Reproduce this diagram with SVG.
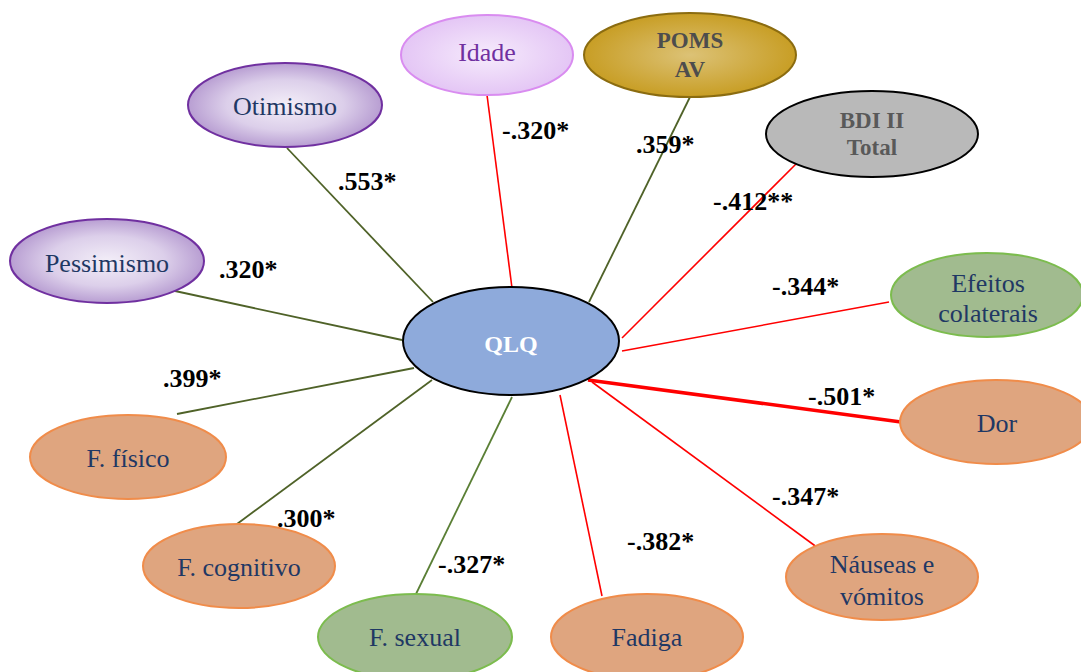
<svg xmlns="http://www.w3.org/2000/svg" width="1081" height="672" viewBox="0 0 1081 672">
  <defs>
    <radialGradient id="gPurple" cx="50%" cy="50%" r="50%">
      <stop offset="0" stop-color="#f3eef8"/>
      <stop offset="0.6" stop-color="#dccfea"/>
      <stop offset="1" stop-color="#b89ed2"/>
    </radialGradient>
    <radialGradient id="gLilac" cx="50%" cy="50%" r="50%">
      <stop offset="0" stop-color="#f6ebfc"/>
      <stop offset="1" stop-color="#e4c6f5"/>
    </radialGradient>
    <radialGradient id="gGold" cx="50%" cy="50%" r="50%">
      <stop offset="0" stop-color="#dcc276"/>
      <stop offset="0.6" stop-color="#d0ac45"/>
      <stop offset="1" stop-color="#c89e25"/>
    </radialGradient>
    <style>
      .lbl { font-family: "Liberation Serif", "Times New Roman", serif; font-size: 26px; fill: #1f3864; text-anchor: middle; }
      .bold { font-family: "Liberation Serif", "Times New Roman", serif; font-weight: bold; font-size: 23px; text-anchor: middle; }
      .coef { font-family: "Liberation Serif", "Times New Roman", serif; font-weight: bold; font-size: 26px; fill: #000; }
      .pos { stroke: #4f6228; stroke-width: 1.8; fill: none; }
      .neg { stroke: #ff0000; stroke-width: 1.6; fill: none; }
      .thick { stroke-width: 3.5; }
      .purple { fill: url(#gPurple); stroke: #7030a0; stroke-width: 2; }
      .orange { fill: #dfa57f; stroke: #f08c4a; stroke-width: 2; }
      .green { fill: #a1bb8f; stroke: #7cbc4e; stroke-width: 2; }
    </style>
  </defs>

  <!-- correlation lines from QLQ -->
  <g id="connectors">
    <line class="pos" x1="287" y1="148" x2="433" y2="302"/>
    <line class="neg" x1="487" y1="95" x2="512" y2="288"/>
    <line class="pos" x1="690" y1="97" x2="589" y2="302"/>
    <line class="neg" x1="797" y1="163" x2="622" y2="338"/>
    <line class="pos" x1="175" y1="291" x2="402" y2="340"/>
    <line class="neg" x1="889" y1="302" x2="622" y2="351"/>
    <line class="neg thick" x1="588" y1="380" x2="901" y2="422"/>
    <line class="neg" x1="592" y1="382" x2="818" y2="548"/>
    <line class="neg" x1="560" y1="395" x2="602" y2="596"/>
    <line class="pos" x1="512" y1="397" x2="415" y2="596" style="stroke:#5a7f35"/>
    <line class="pos" x1="432" y1="380" x2="237" y2="524"/>
    <line class="pos" x1="414" y1="368" x2="177" y2="414"/>
  </g>

  <!-- coefficients -->
  <g id="coefficients">
    <text class="coef" x="338" y="190">.553*</text>
    <text class="coef" x="502" y="139">-.320*</text>
    <text class="coef" x="636" y="153">.359*</text>
    <text class="coef" x="713" y="210">-.412**</text>
    <text class="coef" x="219" y="278">.320*</text>
    <text class="coef" x="772" y="295">-.344*</text>
    <text class="coef" x="808" y="405">-.501*</text>
    <text class="coef" x="163" y="387">.399*</text>
    <text class="coef" x="772" y="505">-.347*</text>
    <text class="coef" x="277" y="527">.300*</text>
    <text class="coef" x="627" y="550">-.382*</text>
    <text class="coef" x="438" y="573">-.327*</text>
  </g>

  <g id="qlq">
    <ellipse cx="511" cy="341" rx="108" ry="54" fill="#8eaadb" stroke="#000" stroke-width="2"/>
    <text class="bold" x="511" y="352" style="fill:#fff;font-size:24px">QLQ</text>
  </g>

  <g id="idade">
    <ellipse cx="487" cy="55" rx="86" ry="40" fill="url(#gLilac)" stroke="#d98cf0" stroke-width="2"/>
    <text class="lbl" x="487" y="61" style="fill:#7030a0">Idade</text>
  </g>

  <g id="poms">
    <ellipse cx="690" cy="55" rx="106" ry="42" fill="url(#gGold)" stroke="#8b6c10" stroke-width="2"/>
    <text class="bold" x="690" y="48" fill="#4d4d4d">POMS</text>
    <text class="bold" x="690" y="77" fill="#4d4d4d">AV</text>
  </g>

  <g id="bdi">
    <ellipse cx="872" cy="134" rx="106" ry="43" fill="#b9b9b9" stroke="#000" stroke-width="2"/>
    <text class="bold" x="872" y="128" fill="#595959">BDI II</text>
    <text class="bold" x="872" y="155" fill="#595959">Total</text>
  </g>

  <g id="otimismo">
    <ellipse cx="285" cy="105" rx="97" ry="42" class="purple"/>
    <text class="lbl" x="285" y="115">Otimismo</text>
  </g>

  <g id="pessimismo">
    <ellipse cx="107" cy="261" rx="97" ry="42" class="purple"/>
    <text class="lbl" x="107" y="272">Pessimismo</text>
  </g>

  <g id="efeitos">
    <ellipse cx="987" cy="295" rx="96" ry="42" class="green"/>
    <text class="lbl" x="988" y="292">Efeitos</text>
    <text class="lbl" x="988" y="322">colaterais</text>
  </g>

  <g id="dor">
    <ellipse cx="996" cy="422" rx="96" ry="42" class="orange"/>
    <text class="lbl" x="997" y="432">Dor</text>
  </g>

  <g id="nauseas">
    <ellipse cx="882" cy="577" rx="96" ry="43" class="orange"/>
    <text class="lbl" x="882" y="573">Náuseas e</text>
    <text class="lbl" x="882" y="605">vómitos</text>
  </g>

  <g id="fadiga">
    <ellipse cx="647" cy="637" rx="96" ry="43" class="orange"/>
    <text class="lbl" x="647" y="646">Fadiga</text>
  </g>

  <g id="fsexual">
    <ellipse cx="415" cy="637" rx="97" ry="43" class="green"/>
    <text class="lbl" x="415" y="646">F. sexual</text>
  </g>

  <g id="fcognitivo">
    <ellipse cx="239" cy="566" rx="96" ry="42" class="orange"/>
    <text class="lbl" x="239" y="576">F. cognitivo</text>
  </g>

  <g id="ffisico">
    <ellipse cx="128" cy="457" rx="98" ry="42" class="orange"/>
    <text class="lbl" x="128" y="467">F. físico</text>
  </g>
</svg>
